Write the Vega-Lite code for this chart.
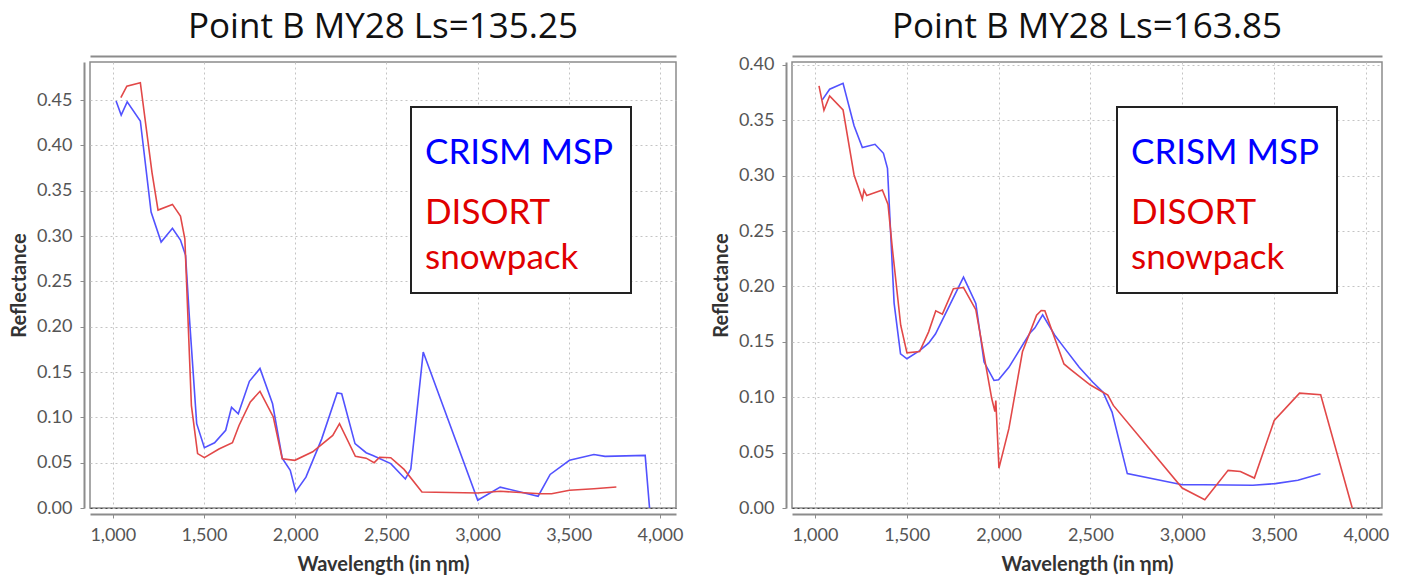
{
  "$schema": "https://vega.github.io/schema/vega-lite/v6.json",
  "background": "white",
  "padding": {"left": 8, "top": 9, "right": 5, "bottom": 5},
  "datasets": {
    "ls135": [
      {"wl": 1018, "r": 0.449, "s": "CRISM MSP"}, {"wl": 1046, "r": 0.4335, "s": "CRISM MSP"}, {"wl": 1079, "r": 0.448, "s": "CRISM MSP"},
      {"wl": 1151, "r": 0.427, "s": "CRISM MSP"}, {"wl": 1210, "r": 0.3265, "s": "CRISM MSP"}, {"wl": 1265, "r": 0.2934, "s": "CRISM MSP"},
      {"wl": 1327, "r": 0.3085, "s": "CRISM MSP"}, {"wl": 1371, "r": 0.2956, "s": "CRISM MSP"}, {"wl": 1399, "r": 0.2787, "s": "CRISM MSP"},
      {"wl": 1420, "r": 0.21, "s": "CRISM MSP"}, {"wl": 1460, "r": 0.093, "s": "CRISM MSP"}, {"wl": 1502, "r": 0.0665, "s": "CRISM MSP"},
      {"wl": 1558, "r": 0.072, "s": "CRISM MSP"}, {"wl": 1619, "r": 0.0857, "s": "CRISM MSP"}, {"wl": 1651, "r": 0.111, "s": "CRISM MSP"},
      {"wl": 1688, "r": 0.104, "s": "CRISM MSP"}, {"wl": 1749, "r": 0.1397, "s": "CRISM MSP"}, {"wl": 1807, "r": 0.154, "s": "CRISM MSP"},
      {"wl": 1876, "r": 0.115, "s": "CRISM MSP"}, {"wl": 1929, "r": 0.055, "s": "CRISM MSP"}, {"wl": 1973, "r": 0.0415, "s": "CRISM MSP"},
      {"wl": 2003, "r": 0.018, "s": "CRISM MSP"}, {"wl": 2059, "r": 0.034, "s": "CRISM MSP"}, {"wl": 2145, "r": 0.076, "s": "CRISM MSP"},
      {"wl": 2230, "r": 0.127, "s": "CRISM MSP"}, {"wl": 2255, "r": 0.126, "s": "CRISM MSP"}, {"wl": 2328, "r": 0.071, "s": "CRISM MSP"},
      {"wl": 2389, "r": 0.061, "s": "CRISM MSP"}, {"wl": 2426, "r": 0.058, "s": "CRISM MSP"}, {"wl": 2524, "r": 0.049, "s": "CRISM MSP"},
      {"wl": 2604, "r": 0.032, "s": "CRISM MSP"}, {"wl": 2634, "r": 0.043, "s": "CRISM MSP"}, {"wl": 2702, "r": 0.172, "s": "CRISM MSP"},
      {"wl": 3001, "r": 0.0085, "s": "CRISM MSP"}, {"wl": 3124, "r": 0.023, "s": "CRISM MSP"}, {"wl": 3332, "r": 0.013, "s": "CRISM MSP"},
      {"wl": 3398, "r": 0.037, "s": "CRISM MSP"}, {"wl": 3504, "r": 0.0526, "s": "CRISM MSP"}, {"wl": 3638, "r": 0.059, "s": "CRISM MSP"},
      {"wl": 3699, "r": 0.057, "s": "CRISM MSP"}, {"wl": 3919, "r": 0.058, "s": "CRISM MSP"}, {"wl": 3943, "r": 0.0, "s": "CRISM MSP"},
      {"wl": 1044, "r": 0.4526, "s": "DISORT snowpack"}, {"wl": 1077, "r": 0.4654, "s": "DISORT snowpack"}, {"wl": 1151, "r": 0.4691, "s": "DISORT snowpack"},
      {"wl": 1215, "r": 0.3699, "s": "DISORT snowpack"}, {"wl": 1248, "r": 0.3287, "s": "DISORT snowpack"}, {"wl": 1327, "r": 0.3349, "s": "DISORT snowpack"},
      {"wl": 1371, "r": 0.3221, "s": "DISORT snowpack"}, {"wl": 1395, "r": 0.297, "s": "DISORT snowpack"}, {"wl": 1431, "r": 0.113, "s": "DISORT snowpack"},
      {"wl": 1465, "r": 0.06, "s": "DISORT snowpack"}, {"wl": 1502, "r": 0.0555, "s": "DISORT snowpack"}, {"wl": 1582, "r": 0.065, "s": "DISORT snowpack"},
      {"wl": 1656, "r": 0.072, "s": "DISORT snowpack"}, {"wl": 1692, "r": 0.091, "s": "DISORT snowpack"}, {"wl": 1754, "r": 0.117, "s": "DISORT snowpack"},
      {"wl": 1807, "r": 0.1287, "s": "DISORT snowpack"}, {"wl": 1880, "r": 0.1004, "s": "DISORT snowpack"}, {"wl": 1929, "r": 0.0544, "s": "DISORT snowpack"},
      {"wl": 1998, "r": 0.0526, "s": "DISORT snowpack"}, {"wl": 2096, "r": 0.062, "s": "DISORT snowpack"}, {"wl": 2206, "r": 0.08, "s": "DISORT snowpack"},
      {"wl": 2243, "r": 0.093, "s": "DISORT snowpack"}, {"wl": 2330, "r": 0.057, "s": "DISORT snowpack"}, {"wl": 2389, "r": 0.055, "s": "DISORT snowpack"},
      {"wl": 2433, "r": 0.05, "s": "DISORT snowpack"}, {"wl": 2463, "r": 0.056, "s": "DISORT snowpack"}, {"wl": 2524, "r": 0.0555, "s": "DISORT snowpack"},
      {"wl": 2597, "r": 0.0426, "s": "DISORT snowpack"}, {"wl": 2695, "r": 0.0176, "s": "DISORT snowpack"}, {"wl": 3001, "r": 0.0165, "s": "DISORT snowpack"},
      {"wl": 3124, "r": 0.0184, "s": "DISORT snowpack"}, {"wl": 3344, "r": 0.0158, "s": "DISORT snowpack"}, {"wl": 3406, "r": 0.0158, "s": "DISORT snowpack"},
      {"wl": 3504, "r": 0.0195, "s": "DISORT snowpack"}, {"wl": 3638, "r": 0.0213, "s": "DISORT snowpack"}, {"wl": 3761, "r": 0.0232, "s": "DISORT snowpack"}
    ],
    "ls163": [
      {"wl": 1040, "r": 0.3684, "s": "CRISM MSP"}, {"wl": 1080, "r": 0.378, "s": "CRISM MSP"}, {"wl": 1153, "r": 0.3834, "s": "CRISM MSP"},
      {"wl": 1213, "r": 0.345, "s": "CRISM MSP"}, {"wl": 1258, "r": 0.3253, "s": "CRISM MSP"}, {"wl": 1327, "r": 0.3283, "s": "CRISM MSP"},
      {"wl": 1373, "r": 0.3202, "s": "CRISM MSP"}, {"wl": 1395, "r": 0.3066, "s": "CRISM MSP"}, {"wl": 1431, "r": 0.185, "s": "CRISM MSP"},
      {"wl": 1466, "r": 0.1392, "s": "CRISM MSP"}, {"wl": 1501, "r": 0.1347, "s": "CRISM MSP"}, {"wl": 1570, "r": 0.142, "s": "CRISM MSP"},
      {"wl": 1619, "r": 0.1488, "s": "CRISM MSP"}, {"wl": 1656, "r": 0.157, "s": "CRISM MSP"}, {"wl": 1809, "r": 0.2084, "s": "CRISM MSP"},
      {"wl": 1876, "r": 0.1846, "s": "CRISM MSP"}, {"wl": 1921, "r": 0.1317, "s": "CRISM MSP"}, {"wl": 1975, "r": 0.1151, "s": "CRISM MSP"},
      {"wl": 2000, "r": 0.1157, "s": "CRISM MSP"}, {"wl": 2056, "r": 0.127, "s": "CRISM MSP"}, {"wl": 2171, "r": 0.158, "s": "CRISM MSP"},
      {"wl": 2197, "r": 0.1624, "s": "CRISM MSP"}, {"wl": 2240, "r": 0.1744, "s": "CRISM MSP"}, {"wl": 2306, "r": 0.156, "s": "CRISM MSP"},
      {"wl": 2356, "r": 0.145, "s": "CRISM MSP"}, {"wl": 2439, "r": 0.127, "s": "CRISM MSP"}, {"wl": 2512, "r": 0.1137, "s": "CRISM MSP"},
      {"wl": 2569, "r": 0.1046, "s": "CRISM MSP"}, {"wl": 2618, "r": 0.0866, "s": "CRISM MSP"}, {"wl": 2701, "r": 0.031, "s": "CRISM MSP"},
      {"wl": 3000, "r": 0.021, "s": "CRISM MSP"}, {"wl": 3115, "r": 0.021, "s": "CRISM MSP"}, {"wl": 3385, "r": 0.0205, "s": "CRISM MSP"},
      {"wl": 3507, "r": 0.022, "s": "CRISM MSP"}, {"wl": 3630, "r": 0.025, "s": "CRISM MSP"}, {"wl": 3753, "r": 0.031, "s": "CRISM MSP"},
      {"wl": 1022, "r": 0.381, "s": "DISORT snowpack"}, {"wl": 1049, "r": 0.359, "s": "DISORT snowpack"}, {"wl": 1080, "r": 0.372, "s": "DISORT snowpack"},
      {"wl": 1153, "r": 0.3593, "s": "DISORT snowpack"}, {"wl": 1213, "r": 0.3006, "s": "DISORT snowpack"}, {"wl": 1258, "r": 0.2789, "s": "DISORT snowpack"},
      {"wl": 1267, "r": 0.287, "s": "DISORT snowpack"}, {"wl": 1282, "r": 0.282, "s": "DISORT snowpack"}, {"wl": 1367, "r": 0.287, "s": "DISORT snowpack"},
      {"wl": 1398, "r": 0.274, "s": "DISORT snowpack"}, {"wl": 1421, "r": 0.235, "s": "DISORT snowpack"}, {"wl": 1467, "r": 0.165, "s": "DISORT snowpack"},
      {"wl": 1501, "r": 0.14, "s": "DISORT snowpack"}, {"wl": 1570, "r": 0.1413, "s": "DISORT snowpack"}, {"wl": 1619, "r": 0.159, "s": "DISORT snowpack"},
      {"wl": 1658, "r": 0.178, "s": "DISORT snowpack"}, {"wl": 1694, "r": 0.175, "s": "DISORT snowpack"}, {"wl": 1754, "r": 0.198, "s": "DISORT snowpack"},
      {"wl": 1809, "r": 0.199, "s": "DISORT snowpack"}, {"wl": 1876, "r": 0.179, "s": "DISORT snowpack"}, {"wl": 1963, "r": 0.0986, "s": "DISORT snowpack"},
      {"wl": 1980, "r": 0.087, "s": "DISORT snowpack"}, {"wl": 1985, "r": 0.097, "s": "DISORT snowpack"}, {"wl": 2002, "r": 0.036, "s": "DISORT snowpack"},
      {"wl": 2056, "r": 0.0716, "s": "DISORT snowpack"}, {"wl": 2130, "r": 0.141, "s": "DISORT snowpack"}, {"wl": 2207, "r": 0.174, "s": "DISORT snowpack"},
      {"wl": 2232, "r": 0.1783, "s": "DISORT snowpack"}, {"wl": 2252, "r": 0.178, "s": "DISORT snowpack"}, {"wl": 2356, "r": 0.13, "s": "DISORT snowpack"},
      {"wl": 2393, "r": 0.125, "s": "DISORT snowpack"}, {"wl": 2500, "r": 0.111, "s": "DISORT snowpack"}, {"wl": 2595, "r": 0.102, "s": "DISORT snowpack"},
      {"wl": 2625, "r": 0.0926, "s": "DISORT snowpack"}, {"wl": 3000, "r": 0.018, "s": "DISORT snowpack"}, {"wl": 3123, "r": 0.0075, "s": "DISORT snowpack"},
      {"wl": 3250, "r": 0.034, "s": "DISORT snowpack"}, {"wl": 3317, "r": 0.033, "s": "DISORT snowpack"}, {"wl": 3393, "r": 0.027, "s": "DISORT snowpack"},
      {"wl": 3501, "r": 0.079, "s": "DISORT snowpack"}, {"wl": 3639, "r": 0.1037, "s": "DISORT snowpack"}, {"wl": 3754, "r": 0.1022, "s": "DISORT snowpack"},
      {"wl": 3926, "r": 0.0, "s": "DISORT snowpack"}
    ]
  },
  "config": {
    "font": "Lato",
    "view": {"stroke": "#8c8c8c", "strokeWidth": 1.5},
    "title": {"font": "Open Sans", "fontSize": 35, "fontWeight": "normal", "color": "#111111", "frame": "group", "anchor": "middle", "offset": 11},
    "axis": {
      "domainColor": "#8c8c8c", "domainWidth": 2, "tickColor": "#8c8c8c", "tickSize": 4,
      "labelFont": "Lato", "labelFontSize": 18, "labelColor": "#555555", "labelPadding": 5,
      "titleFont": "Lato", "titleFontSize": 20, "titleFontWeight": "bold", "titleColor": "#333333",
      "gridColor": "#c4c4c4", "gridDash": [2, 3], "gridWidth": 1
    },
    "axisBottom": {"labelPadding": 8, "titlePadding": 10},
    "axisLeft": {"labelPadding": 8, "titlePadding": 7},
    "legend": {
      "orient": "top-right", "offset": 45, "titleFontSize": 1, "titlePadding": 10,
      "strokeColor": "#222222", "strokeWidth": 2, "fillColor": "white", "padding": 17,
      "symbolSize": 0, "symbolStrokeWidth": 0, "symbolOpacity": 0, "labelOffset": -38,
      "labelFont": "Lato", "labelFontSize": 35, "labelLimit": 0, "rowPadding": 24
    }
  },
  "spacing": 26,
  "resolve": {"scale": {"color": "independent", "y": "independent", "x": "independent"}, "legend": {"color": "independent"}},
  "hconcat": [
    {
      "title": "Point B MY28 Ls=135.25",
      "width": 586,
      "height": 446,
      "layer": [
        {
          "data": {"name": "ls135"},
          "mark": {"type": "line", "strokeWidth": 1.6, "clip": true},
          "encoding": {
            "x": {"field": "wl", "type": "quantitative", "scale": {"domain": [875, 4088], "nice": false, "zero": false},
                  "axis": {"title": "Wavelength (in ηm)", "values": [1000, 1500, 2000, 2500, 3000, 3500, 4000], "format": ",d", "offset": 6, "grid": true}},
            "y": {"field": "r", "type": "quantitative", "scale": {"domain": [0, 0.492], "nice": false},
                  "axis": {"title": "Reflectance", "values": [0, 0.05, 0.1, 0.15, 0.2, 0.25, 0.3, 0.35, 0.4, 0.45], "format": ".2f", "offset": 6, "grid": true,
                           "gridColor": {"condition": {"test": "datum.value === 0", "value": "#444444"}, "value": "#c4c4c4"}}},
            "color": {"field": "s", "type": "nominal",
                      "scale": {"domain": ["CRISM MSP", "DISORT snowpack"], "range": ["#5252ff", "#e24848"]},
                      "legend": {
                        "title": " ",
                        "labelExpr": "datum.label == 'DISORT snowpack' ? ['DISORT', 'snowpack'] : datum.label",
                        "encode": {"labels": {"update": {"fill": {"signal": "datum.value == 'CRISM MSP' ? '#0000ff' : '#e00000'"}, "lineHeight": {"value": 45}}}}
                      }}
          }
        },
        {
          "data": {"values": []},
          "mark": {"type": "rule"},
          "encoding": {
            "x": {"field": "wl", "type": "quantitative", "axis": {"orient": "top", "title": null, "labels": false, "ticks": false, "grid": false, "offset": 6}}
          }
        }
      ],
      "resolve": {"axis": {"x": "independent"}}
    },
    {
      "title": "Point B MY28 Ls=163.85",
      "width": 590,
      "height": 446,
      "layer": [
        {
          "data": {"name": "ls163"},
          "mark": {"type": "line", "strokeWidth": 1.6, "clip": true},
          "encoding": {
            "x": {"field": "wl", "type": "quantitative", "scale": {"domain": [875, 4088], "nice": false, "zero": false},
                  "axis": {"title": "Wavelength (in ηm)", "values": [1000, 1500, 2000, 2500, 3000, 3500, 4000], "format": ",d", "offset": 6, "grid": true}},
            "y": {"field": "r", "type": "quantitative", "scale": {"domain": [0, 0.4026], "nice": false},
                  "axis": {"title": "Reflectance", "values": [0, 0.05, 0.1, 0.15, 0.2, 0.25, 0.3, 0.35, 0.4], "format": ".2f", "offset": 6, "grid": true,
                           "gridColor": {"condition": {"test": "datum.value === 0", "value": "#444444"}, "value": "#c4c4c4"}}},
            "color": {"field": "s", "type": "nominal",
                      "scale": {"domain": ["CRISM MSP", "DISORT snowpack"], "range": ["#5252ff", "#e24848"]},
                      "legend": {
                        "title": " ",
                        "labelExpr": "datum.label == 'DISORT snowpack' ? ['DISORT', 'snowpack'] : datum.label",
                        "encode": {"labels": {"update": {"fill": {"signal": "datum.value == 'CRISM MSP' ? '#0000ff' : '#e00000'"}, "lineHeight": {"value": 45}}}}
                      }}
          }
        },
        {
          "data": {"values": []},
          "mark": {"type": "rule"},
          "encoding": {
            "x": {"field": "wl", "type": "quantitative", "axis": {"orient": "top", "title": null, "labels": false, "ticks": false, "grid": false, "offset": 6}}
          }
        }
      ],
      "resolve": {"axis": {"x": "independent"}}
    }
  ]
}
